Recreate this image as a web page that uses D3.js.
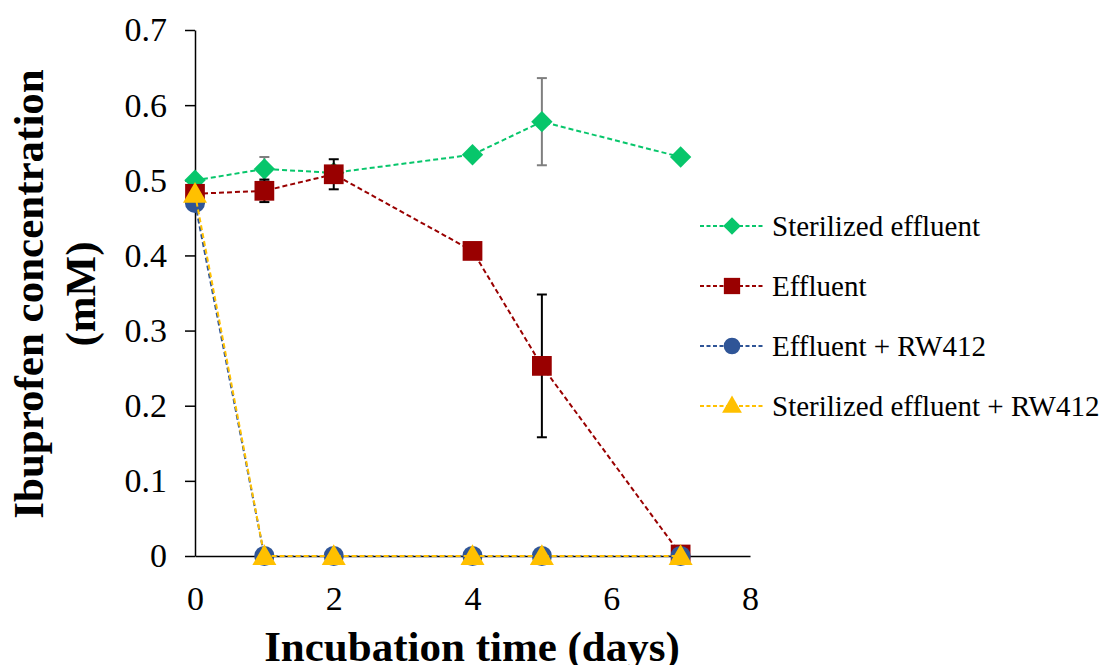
<!DOCTYPE html>
<html lang="en">
<head>
<meta charset="UTF-8">
<script src="https://cdn.jsdelivr.net/npm/d3@7"></script>
<title>Ibuprofen concentration</title>
<style>
  html, body { margin: 0; padding: 0; background: #fff; }
  svg { display: block; font-family: "Liberation Serif", "Times New Roman", serif; }
  svg text { font-family: "Liberation Serif", "Times New Roman", serif; fill: #000; }
</style>
</head>
<body>
<div id="chart"></div>
<script>
const days = [0, 1, 2, 4, 5, 7];

const sterilized    = [0.500, 0.515, 0.510, 0.534, 0.578, 0.531];
const sterilizedErr = [0, 0.016, 0, 0, 0.058, 0];
const effluent      = [0.482, 0.486, 0.508, 0.406, 0.253, 0.002];
const effluentErr   = [0, 0.015, 0.020, 0, 0.095, 0];
const effluentRW    = [0.470, 0, 0, 0, 0, 0];
const sterilizedRW  = [0.482, 0, 0, 0, 0, 0];

const yTicks = [0, 0.1, 0.2, 0.3, 0.4, 0.5, 0.6, 0.7];
const xTicks = [0, 2, 4, 6, 8];

const series = [
  {name: "Sterilized effluent", values: sterilized, err: sterilizedErr, color: "#07c66b", errColor: "#7f7f7f", shape: "diamond"},
  {name: "Effluent", values: effluent, err: effluentErr, color: "#990000", errColor: "#000", shape: "square"},
  {name: "Effluent + RW412", values: effluentRW, err: null, color: "#2f5597", shape: "circle"},
  {name: "Sterilized effluent + RW412", values: sterilizedRW, err: null, color: "#ffc000", shape: "triangle"}
];

const width = 1101, height = 665;
const svg = d3.select("#chart").append("svg").attr("width", width).attr("height", height);

const x = d3.scaleLinear().domain([0, 8]).range([195, 750]);
const y = d3.scaleLinear().domain([0, 0.7]).range([556, 30]);

// axes
const yAxis = svg.append("g").attr("transform", "translate(195,0)")
  .call(d3.axisLeft(y).tickValues(yTicks).tickSizeOuter(0).tickSizeInner(10)
    .tickFormat(d => d === 0 ? "0" : d3.format(".1f")(d)));
yAxis.attr("font-family", null).attr("font-size", null);
yAxis.select(".domain").attr("stroke", "#000").attr("stroke-width", 1.5);
yAxis.selectAll(".tick line").attr("stroke", "#000").attr("stroke-width", 1.5);
yAxis.selectAll(".tick text").attr("x", -28).attr("font-size", 34);

const xAxis = svg.append("g").attr("transform", "translate(0,556)")
  .call(d3.axisBottom(x).tickValues(xTicks).tickSize(0));
xAxis.attr("font-family", null).attr("font-size", null);
xAxis.select(".domain").attr("stroke", "#000").attr("stroke-width", 1.5);
xAxis.selectAll(".tick text").attr("dy", null).attr("y", 54).attr("font-size", 34);

// titles
svg.append("text").attr("x", 472).attr("y", 661).attr("text-anchor", "middle")
  .attr("font-size", 43).attr("font-weight", "bold").text("Incubation time (days)");
const yt = svg.append("text").attr("transform", "translate(0,294) rotate(-90)")
  .attr("text-anchor", "middle").attr("font-size", 43).attr("font-weight", "bold");
yt.append("tspan").attr("x", 0).attr("y", 43).text("Ibuprofen concentration");
yt.append("tspan").attr("x", 0).attr("y", 95).text("(mM)");

function shapePath(shape, k) {
  if (shape === "diamond") return d3.symbol(d3.symbolDiamond2, 290 * k)();
  if (shape === "square") return d3.symbol(d3.symbolSquare, 390 * k)();
  if (shape === "circle") return d3.symbol(d3.symbolCircle, 320 * k)();
  return d3.symbol(d3.symbolTriangle, 250 * k)();
}

const line = d3.line().x(d => x(d[0])).y(d => y(d[1]));

series.forEach(s => {
  const pts = days.map((d, i) => [d, s.values[i], s.err ? s.err[i] : 0]);
  const g = svg.append("g");
  g.append("path").datum(pts).attr("d", line).attr("fill", "none")
    .attr("stroke", s.color).attr("stroke-width", 2).attr("stroke-dasharray", "5,3");
  if (s.err) {
    const eb = g.selectAll(".err").data(pts.filter(p => p[2] > 0)).join("g")
      .attr("stroke", s.errColor).attr("stroke-width", 2);
    eb.append("line").attr("x1", p => x(p[0])).attr("x2", p => x(p[0]))
      .attr("y1", p => y(p[1] + p[2])).attr("y2", p => y(p[1] - p[2]));
    eb.append("line").attr("x1", p => x(p[0]) - 5).attr("x2", p => x(p[0]) + 5)
      .attr("y1", p => y(p[1] + p[2])).attr("y2", p => y(p[1] + p[2]));
    eb.append("line").attr("x1", p => x(p[0]) - 5).attr("x2", p => x(p[0]) + 5)
      .attr("y1", p => y(p[1] - p[2])).attr("y2", p => y(p[1] - p[2]));
  }
  g.selectAll(".mark").data(pts).join("path")
    .attr("transform", p => `translate(${x(p[0])},${y(p[1]) + (s.shape === "triangle" ? 2 : 0)})`)
    .attr("d", shapePath(s.shape, 1)).attr("fill", s.color);
});

// legend
const legend = svg.append("g").selectAll("g").data(series).join("g")
  .attr("transform", (d, i) => `translate(700,${226 + i * 60})`);
legend.append("line").attr("x1", 0).attr("x2", 63).attr("stroke", d => d.color)
  .attr("stroke-width", 2).attr("stroke-dasharray", "4,2.5");
legend.append("path").attr("transform", d => `translate(32,${d.shape === "triangle" ? 1 : 0})`)
  .attr("d", d => shapePath(d.shape, 0.68)).attr("fill", d => d.color);
legend.append("text").attr("x", 72).attr("y", 10).attr("font-size", 29)
  .text(d => d.name);
</script>
</body>
</html>
